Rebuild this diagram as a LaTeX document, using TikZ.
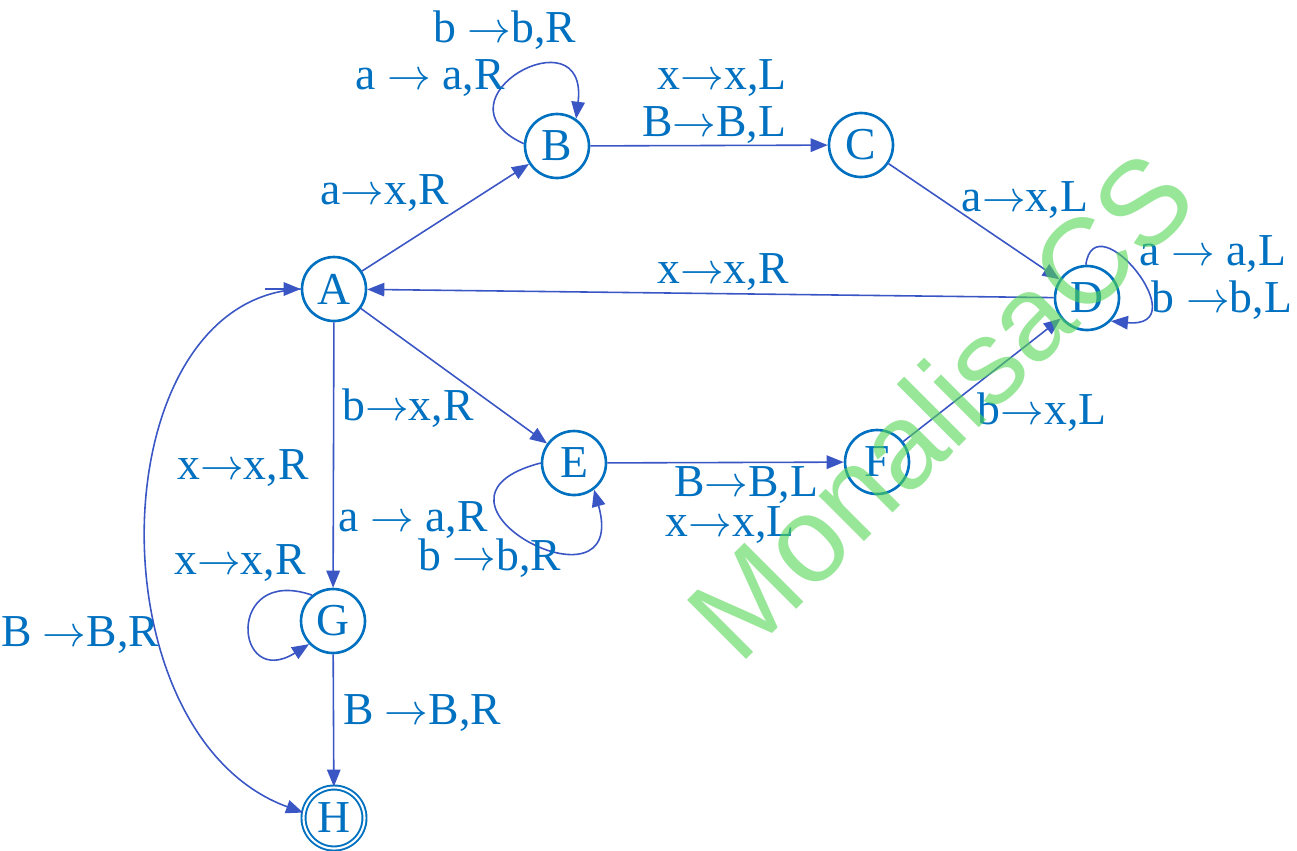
\documentclass[tikz,border=0pt]{standalone}
\usepackage{fontspec}
\setmainfont{Liberation Serif}
\newfontfamily\wmfont{Liberation Sans}
\usetikzlibrary{arrows.meta,positioning,calc}
\definecolor{txtblue}{RGB}{0,112,192}
\definecolor{lineblue}{RGB}{58,86,196}
\definecolor{wmgreen}{RGB}{83,213,83}
\newcommand{\trarrow}{\ensuremath{\rightarrow}}
\tikzset{
  state/.style  = {draw=txtblue, line width=1.5pt, circle, minimum size=1.28cm,
                   inner sep=0pt, text=txtblue, font=\fontsize{26}{30}\selectfont},
  accept/.style = {state, double, double distance=1.2pt, line width=1.1pt,
                   minimum size=1.22cm},
  trans/.style  = {-{Triangle[length=3.4mm,width=2.7mm]}, lineblue, line width=0.9pt},
  lab/.style    = {text=txtblue, inner sep=0pt, font=\fontsize{26}{30}\selectfont},
  wm/.style     = {text=wmgreen, text opacity=0.6, inner sep=0pt, rotate=45,
                   font=\wmfont\fontsize{69}{76}\selectfont},
}

\begin{document}
\begin{tikzpicture}[x=0.02cm,y=-0.02cm]
\useasboundingbox (0,0) rectangle (1297,850);
% ---------- states ----------
\node[state]  (A) at (334,289) {A};
\node[state]  (B) at (557,146) {B};
\node[state]  (C) at (861,145) {C};
\node[state]  (D) at (1087,298) {D};
\node[state]  (E) at (574,463) {E};
\node[state]  (F) at (877,462) {F};
\node[state]  (G) at (333,621) {G};
\node[accept] (H) at (334,818) {H};
\coordinate (start) at (265,289);
% ---------- transitions ----------
\draw[trans] (start) -- (A);
\draw[trans] (A) -- (B);
\draw[trans] (B) -- (C);
\draw[trans] (C) -- (D);
\draw[trans] (D) -- (A);
\draw[trans] (A) -- (E);
\draw[trans] (E) -- (F);
\draw[trans] (F) -- (D);
\draw[trans] (A) -- (G);
\draw[trans] (G) -- (H);
\draw[trans] (A.west) .. controls +(-202,10) and +(-213,-78) .. (H.170);
% ---------- loops ----------
\draw[trans] (B.176) .. controls +(-96,-44) and +(13,-108) .. (B.55);
\draw[trans] (D.92) .. controls +(9,-65) and +(88,8) .. (D.-44);
\draw[trans] (E.180) .. controls +(-143,37) and +(37,132) .. (E.-53);
\draw[trans] (G.129) .. controls +(-87,-30) and +(-75,47) .. (G.224);
% ---------- labels ----------
\node[lab] (lBB)  at (505,30)   {b \trarrow b,R};
\node[lab] (lBA)  at (430,78)   {a \trarrow{} a,R};
\node[lab] (lBC1) at (722,78)   {x\trarrow x,L};
\node[lab] (lBC2) at (714,125)  {B\trarrow B,L};
\node[lab] (lAB)  at (385,193)  {a\trarrow x,R};
\node[lab] (lCD)  at (1025,200) {a\trarrow x,L};
\node[lab] (lDA)  at (723,272)  {x\trarrow x,R};
\node[lab] (lDA1) at (1213,254) {a \trarrow{} a,L};
\node[lab] (lDB1) at (1222,300) {b \trarrow b,L};
\node[lab] (lAE)  at (408,408)  {b\trarrow x,R};
\node[lab] (lAG)  at (243,468)  {x\trarrow x,R};
\node[lab] (lFD)  at (1042,412) {b\trarrow x,L};
\node[lab] (lEF1) at (746,485)  {B\trarrow B,L};
\node[lab] (lEF2) at (730,525)  {x\trarrow x,L};
\node[lab] (lEA)  at (413,520)  {a \trarrow{} a,R};
\node[lab] (lEB)  at (490,558)  {b \trarrow b,R};
\node[lab] (lGG)  at (240,563)  {x\trarrow x,R};
\node[lab] (lAH)  at (80,635)   {B \trarrow B,R};
\node[lab] (lGH)  at (422,713)  {B \trarrow B,R};
% ---------- watermark ----------
\node[wm] (wmark) at (940,405) {MonalisaCS};
\end{tikzpicture}
\end{document}
